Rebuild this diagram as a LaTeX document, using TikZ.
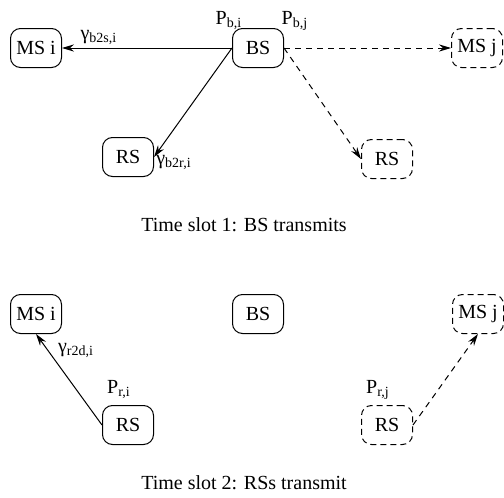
\documentclass[tikz,border=0pt]{standalone}
\usepackage{fontspec}
\setmainfont{Liberation Serif}
\usepackage{tikz}
\usetikzlibrary{arrows.meta,positioning,calc}
\tikzset{
  snode/.style={rectangle,draw,rounded corners=5pt,line width=0.5pt,minimum width=25.5pt,minimum height=19.5pt,inner sep=1pt,font=\fontsize{10}{12}\selectfont},
  dsnode/.style={snode,dashed,dash pattern=on 3pt off 2pt},
  lbl/.style={inner sep=0pt,font=\fontsize{10}{12}\selectfont},
  se/.style={-{Stealth[length=6pt,width=3.6pt,inset=2pt]},line width=0.5pt},
  dse/.style={se,dashed,dash pattern=on 3pt off 2.5pt}
}
\begin{document}
\begin{tikzpicture}[x=0.5pt,y=-0.5pt]
\useasboundingbox (0,0) rectangle (504,498);
% time slot 1
\node[snode] (MSi1) at (36,48) {MS i};
\node[snode] (BS1) at (258,48) {BS};
\node[dsnode] (MSj1) at (477,48) {MS j};
\node[snode] (RSi1) at (128,157) {RS};
\node[dsnode] (RSj1) at (387,159) {RS};
\draw[se] (BS1.west) -- (MSi1.east);
\draw[se] (BS1.west) -- (RSi1.east);
\draw[dse] (BS1.east) -- (MSj1.west);
\draw[dse] (BS1.east) -- (RSj1.west);
\node[lbl] (g1) at (99,37) {γ\textsubscript{b2s,i}};
\node[lbl] (g2) at (174,162) {γ\textsubscript{b2r,i}};
\node[lbl] (p1) at (229,21) {P\textsubscript{b,i}};
\node[lbl] (p2) at (295,21) {P\textsubscript{b,j}};
\node[lbl] (c1) at (244,225) {Time slot 1: BS transmits};
% time slot 2
\node[snode] (MSi2) at (36,314) {MS i};
\node[snode] (BS2) at (258,314) {BS};
\node[dsnode] (MSj2) at (478,314) {MS j};
\node[snode] (RSi2) at (128,425) {RS};
\node[dsnode] (RSj2) at (387,425) {RS};
\draw[se] (RSi2.west) -- (MSi2.south);
\draw[dse] (RSj2.east) -- (MSj2.south);
\node[lbl] (g3) at (76,350) {γ\textsubscript{r2d,i}};
\node[lbl] (p3) at (119,390) {P\textsubscript{r,i}};
\node[lbl] (p4) at (378,390) {P\textsubscript{r,j}};
\node[lbl] (c2) at (244,483) {Time slot 2: RSs transmit};
\end{tikzpicture}
\end{document}
